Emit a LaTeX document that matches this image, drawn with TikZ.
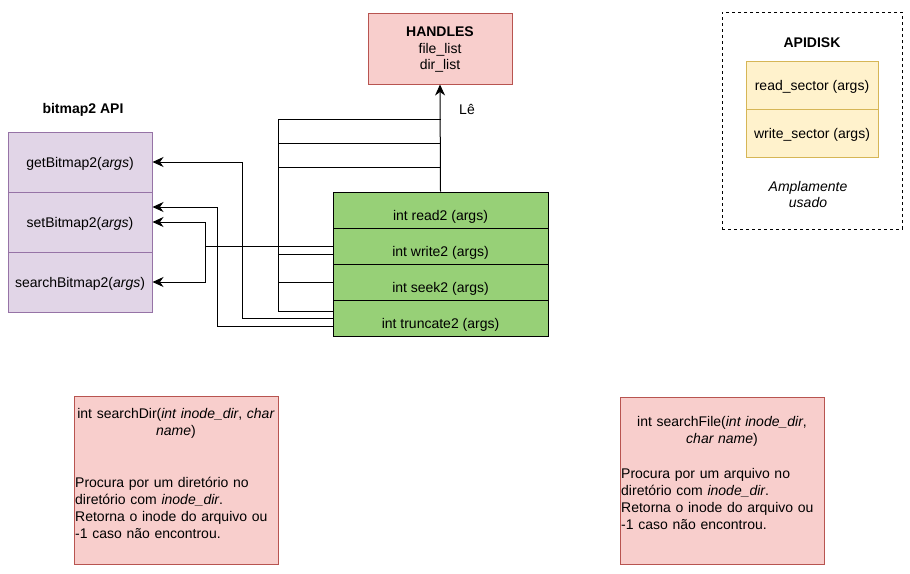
\documentclass[tikz,border=0pt]{standalone}
\usepackage{fontspec}
\setmainfont{Liberation Sans}
\usetikzlibrary{arrows.meta,calc}
\definecolor{redF}{HTML}{F8CECC}
\definecolor{redD}{HTML}{B85450}
\definecolor{purF}{HTML}{E1D5E7}
\definecolor{purD}{HTML}{9673A6}
\definecolor{grnF}{HTML}{97D077}
\definecolor{yelF}{HTML}{FFF2CC}
\definecolor{yelD}{HTML}{D6B656}
\tikzset{
  basefont/.style={font=\fontsize{14}{17}\selectfont},
  box/.style={draw, rectangle, inner sep=0pt, line width=1pt},
  redbox/.style={box, fill=redF, draw=redD},
  purrow/.style={box, fill=purF, draw=purD, minimum width=144pt, minimum height=60pt, basefont, text height=13pt, text depth=3pt},
  grnrow/.style={box, fill=grnF, draw=black, minimum width=215pt, minimum height=36pt},
  yelrow/.style={box, fill=yelF, draw=yelD, minimum width=132pt, minimum height=48pt, basefont, text height=13pt, text depth=3pt},
  txt/.style={basefont, inner sep=0pt},
  conn/.style={line width=1pt},
  arr/.style={conn, -{Stealth[length=11pt,width=10pt,inset=3.5pt]}}
}
\begin{document}
\begin{tikzpicture}[x=1pt,y=-1pt]
\useasboundingbox (0,0) rectangle (910,573);

% HANDLES
\node[redbox, minimum width=144pt, minimum height=71pt] (handles) at (440,48.5) {};
\node[txt, align=center] (handlest) at (440,50) {\textbf{HANDLES}\\[-0.5pt]file\_list\\[-0.5pt]dir\_list};

% bitmap2 API
\node[txt, font=\fontsize{14}{17}\selectfont\bfseries] (bmtitle) at (83,110) {bitmap2 API};
\node[purrow] (get) at (80,162) {getBitmap2(\textit{args})};
\node[purrow] (set) at (80,222) {setBitmap2(\textit{args})};
\node[purrow] (search) at (80,282) {searchBitmap2(\textit{args})};

% green API
\node[grnrow] (read) at (440.5,210) {};
\node[grnrow] (write) at (440.5,246) {};
\node[grnrow] (seek) at (440.5,282) {};
\node[grnrow] (trunc) at (440.5,318) {};
\node[txt] (readt) at ([yshift=-6.5pt]read.center) {int read2 (args)};
\node[txt] (writet) at ([yshift=-7pt]write.center) {int write2 (args)};
\node[txt] (seekt) at ([yshift=-7pt]seek.center) {int seek2 (args)};
\node[txt] (trunct) at ([yshift=-7pt]trunc.center) {int truncate2 (args)};

% APIDISK
\node[draw, rectangle, dashed, dash pattern=on 3pt off 3pt, line width=1pt, minimum width=180pt, minimum height=217pt, inner sep=0pt] (apidisk) at (812,120.5) {};
\node[txt, font=\fontsize{14}{17}\selectfont\bfseries] (apititle) at (812,43) {APIDISK};
\node[yelrow] (rsec) at (812,85) {read\_sector (args)};
\node[yelrow] (wsec) at (812,133) {write\_sector (args)};
\node[txt, align=center, font=\fontsize{14}{16}\selectfont\itshape] (ampl) at (808,194) {Amplamente\\usado};

% bottom boxes
\node[redbox, minimum width=204pt, minimum height=168pt] (sdir) at (176,480) {};
\node[txt, align=center, text width=206pt] (sdirt) at (176,423.5)
  {int searchDir(\textit{int inode\_dir}, \textit{char}\\\textit{name})};
\node[txt, align=left, text width=202pt, anchor=west] (sdirp) at (75,507.5)
  {Procura por um diretório no\\diretório com \textit{inode\_dir}.\\Retorna o inode do arquivo ou\\-1 caso não encontrou.};

\node[redbox, minimum width=204pt, minimum height=167pt] (sfile) at (722,480.5) {};
\node[txt, align=center, text width=204pt] (sfilet) at (722,431.5)
  {int searchFile(\textit{int inode\_dir},\\\textit{char name})};
\node[txt, align=left, text width=202pt, anchor=west] (sfilep) at (621,498.5)
  {Procura por um arquivo no\\diretório com \textit{inode\_dir}.\\Retorna o inode do arquivo ou\\-1 caso não encontrou.};

% connectors to HANDLES
\draw[arr] (read.north) -- (handles.south);
\node[txt] (le) at (467,109) {Lê};
\coordinate (j1) at (278,119);
\coordinate (j2) at (278,143);
\coordinate (j3) at (278,167);
\draw[conn] ([yshift=7pt]trunc.west) -| (j1) -- (read.north |- j1);
\draw[conn] (j2) -- (read.north |- j2);
\draw[conn] (j3) -- (read.north |- j3);
\draw[conn] ([yshift=-8pt]write.west) -- ++(-55,0);
\draw[conn] (seek.west) -- ++(-55,0);

% connectors to bitmap2 API
\draw[arr] (write.west) -- ++(-127,0) |- (set.east);
\draw[arr] ([xshift=-127pt]write.west) |- (search.east);
\draw[arr] (trunc.west) -- ++(-90,0) |- (get.east);
\draw[arr] ([yshift=-8pt]trunc.west) -- ++(-115,0) |- ([yshift=15pt]set.east);
\end{tikzpicture}
\end{document}
